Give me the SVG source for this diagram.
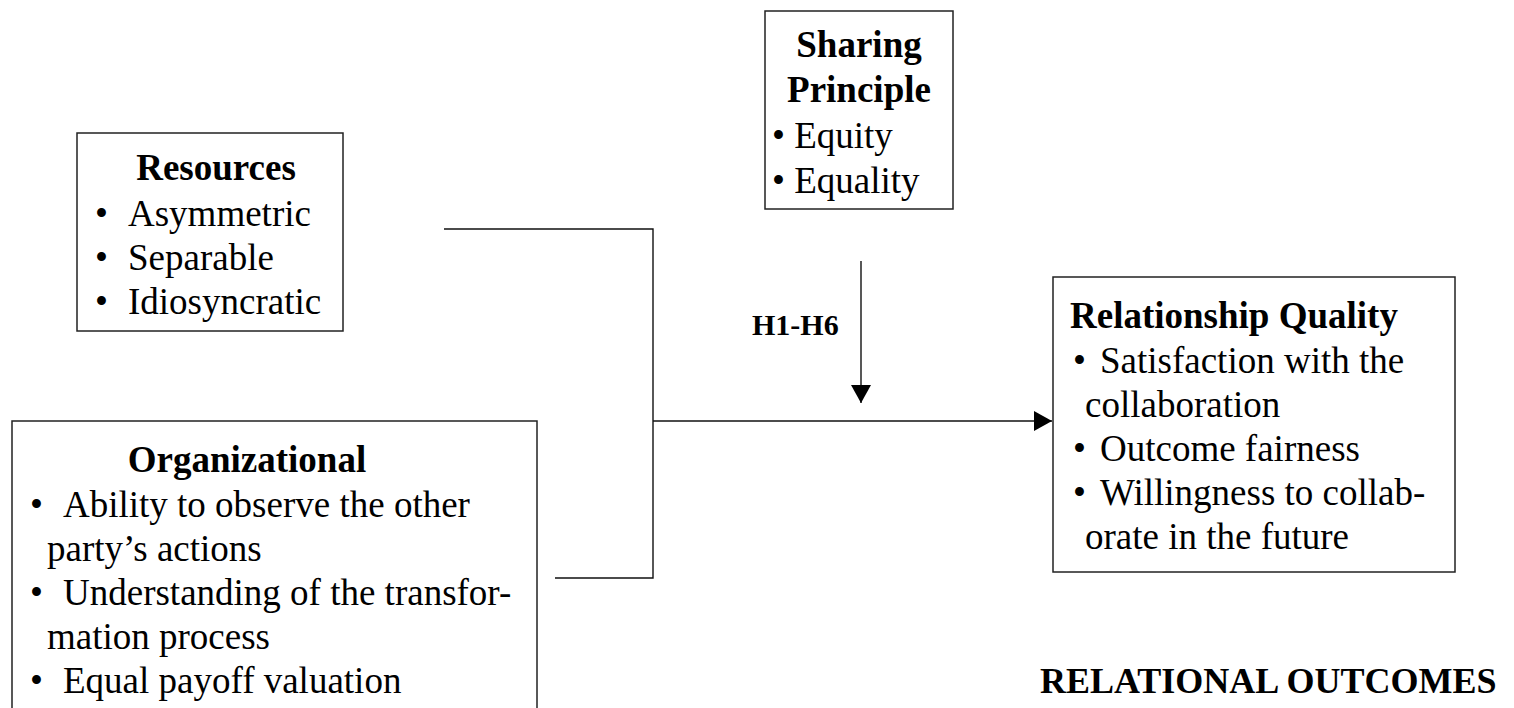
<svg xmlns="http://www.w3.org/2000/svg" width="1514" height="708" viewBox="0 0 1514 708">
  <style>
    .box { fill: #ffffff; stroke: #222222; stroke-width: 1.5; }
    .t { font-family: "Liberation Serif", "Times New Roman", serif; font-size: 37px; fill: #000000; }
    .b { font-weight: bold; }
    .conn { fill: none; stroke: #111111; stroke-width: 1.4; }
  </style>
  <defs>
    <marker id="arrow" viewBox="0 0 18 20" refX="18" refY="10" markerWidth="18" markerHeight="20" markerUnits="userSpaceOnUse" orient="auto">
      <path d="M0,0 L18,10 L0,20 Z" fill="#000000"/>
    </marker>
  </defs>
  <rect width="1514" height="708" fill="#ffffff"/>

  <g id="connectors">
    <polyline class="conn" points="444,229 653,229 653,578 555,578"/>
    <line class="conn" x1="653" y1="421" x2="1052" y2="421" marker-end="url(#arrow)"/>
    <line class="conn" x1="861" y1="261" x2="861" y2="403" marker-end="url(#arrow)"/>
    <text class="t b" x="752" y="335" style="font-size:30px">H1-H6</text>
  </g>

  <g id="sharing-principle">
    <rect class="box" x="765" y="11" width="188" height="198"/>
    <text class="t b" x="859" y="57" text-anchor="middle">Sharing</text>
    <text class="t b" x="859" y="102" text-anchor="middle">Principle</text>
    <text class="t" x="772" y="148">• Equity</text>
    <text class="t" x="772" y="193">• Equality</text>
  </g>

  <g id="resources">
    <rect class="box" x="77" y="133" width="266" height="198"/>
    <text class="t b" x="216" y="180" text-anchor="middle">Resources</text>
    <text class="t" x="95" y="226">•</text><text class="t" x="128" y="226">Asymmetric</text>
    <text class="t" x="95" y="270">•</text><text class="t" x="128" y="270">Separable</text>
    <text class="t" x="95" y="314">•</text><text class="t" x="128" y="314">Idiosyncratic</text>
  </g>

  <g id="organizational">
    <rect class="box" x="12" y="421" width="525" height="300"/>
    <text class="t b" x="247" y="472" text-anchor="middle">Organizational</text>
    <text class="t" x="30" y="517">•</text><text class="t" x="63" y="517">Ability to observe the other</text>
    <text class="t" x="47" y="561">party’s actions</text>
    <text class="t" x="30" y="605">•</text><text class="t" x="63" y="605">Understanding of the transfor-</text>
    <text class="t" x="47" y="649">mation process</text>
    <text class="t" x="30" y="693">•</text><text class="t" x="63" y="693">Equal payoff valuation</text>
  </g>

  <g id="relationship-quality">
    <rect class="box" x="1053" y="277" width="402" height="295"/>
    <text class="t b" x="1070" y="328">Relationship Quality</text>
    <text class="t" x="1073" y="373">•</text><text class="t" x="1100" y="373">Satisfaction with the</text>
    <text class="t" x="1085" y="417">collaboration</text>
    <text class="t" x="1073" y="461">•</text><text class="t" x="1100" y="461">Outcome fairness</text>
    <text class="t" x="1073" y="505">•</text><text class="t" x="1100" y="505">Willingness to collab-</text>
    <text class="t" x="1085" y="549">orate in the future</text>
  </g>

  <g id="relational-outcomes">
    <text class="t b" x="1040" y="693" style="font-size:36px">RELATIONAL OUTCOMES</text>
  </g>
</svg>
